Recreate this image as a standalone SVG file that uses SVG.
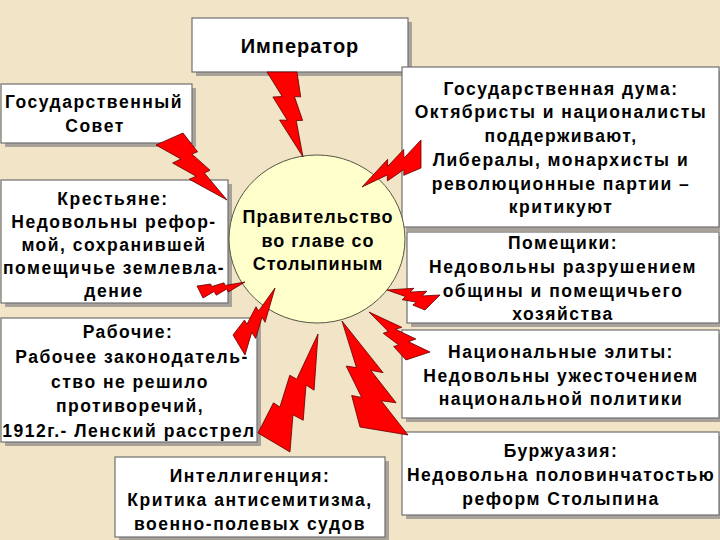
<svg xmlns="http://www.w3.org/2000/svg" xmlns:xlink="http://www.w3.org/1999/xlink" width="720" height="540" viewBox="0 0 720 540">
<style>
.bg{fill:#f2e4c6}
.shadow{fill:#a8a29a}
.box{fill:#ffffff;stroke:#707070;stroke-width:1.2}
.t{font-family:"Liberation Sans",Arial,sans-serif;font-weight:bold;font-size:17.5px;letter-spacing:1.5px;fill:#000;text-anchor:middle}
.big{font-size:20px;letter-spacing:1px}
.mid{font-size:18px;letter-spacing:1px}
.circle{fill:#ffffcc;stroke:#555544;stroke-width:1}
.bolt{fill:#ff0000;stroke:#600000;stroke-width:0.8;stroke-linejoin:miter;vector-effect:non-scaling-stroke}
</style>
<defs>
<path id="boltShape" class="bolt" d="M0.392,0 L0.595,0.281 L0.512,0.315 L0.767,0.556 L0.684,0.596 L1,1 L0.464,0.690 L0.566,0.646 L0.2325,0.449 L0.352,0.388 L0,0.180 Z"/>
</defs>
<rect class="bg" x="0" y="0" width="720" height="540"/>

<g id="imperator">
<rect class="shadow" x="196" y="22" width="216" height="54"/>
<rect class="box" x="192" y="18" width="216" height="54"/>
<text class="t big" x="300" y="53">Император</text>
</g>

<g id="gossovet">
<rect class="shadow" x="5" y="88" width="191" height="59"/>
<rect class="box" x="1" y="84" width="191" height="59"/>
<text class="t" x="94" y="108">Государственный</text>
<text class="t" x="95" y="132">Совет</text>
</g>

<g id="krestyane">
<rect class="shadow" x="5" y="184" width="227" height="123"/>
<rect class="box" x="1" y="180" width="227" height="123"/>
<text class="t" x="113" y="205">Крестьяне:</text>
<text class="t" x="114" y="228">Недовольны рефор-</text>
<text class="t" x="114" y="251">мой, сохранившей</text>
<text class="t" x="114" y="274">помещичье землевла-</text>
<text class="t" x="114" y="297">дение</text>
</g>

<g id="rabochie">
<rect class="shadow" x="5" y="322" width="256" height="124"/>
<rect class="box" x="1" y="318" width="256" height="124"/>
<text class="t" x="128" y="338">Рабочие:</text>
<text class="t" x="132" y="363">Рабочее законодатель-</text>
<text class="t" x="130" y="388">ство не решило</text>
<text class="t" x="130" y="412">противоречий,</text>
<text class="t" x="129" y="437">1912г.- Ленский расстрел</text>
</g>

<g id="intelligentsia">
<rect class="shadow" x="119" y="461" width="270" height="80"/>
<rect class="box" x="115" y="457" width="270" height="80"/>
<text class="t" x="250" y="482">Интеллигенция:</text>
<text class="t" x="250" y="506">Критика антисемитизма,</text>
<text class="t" x="250" y="530">военно-полевых судов</text>
</g>

<g id="duma">
<rect class="shadow" x="406" y="71" width="317" height="160"/>
<rect class="box" x="402" y="67" width="317" height="160"/>
<text class="t" x="561" y="95">Государственная дума:</text>
<text class="t" x="561" y="118">Октябристы и националисты</text>
<text class="t" x="561" y="142">поддерживают,</text>
<text class="t" x="561" y="166">Либералы, монархисты и</text>
<text class="t" x="561" y="190">революционные партии –</text>
<text class="t" x="561" y="213">критикуют</text>
</g>

<g id="pomeshchiki">
<rect class="shadow" x="411" y="236" width="312" height="91"/>
<rect class="box" x="407" y="232" width="312" height="91"/>
<text class="t" x="563" y="249">Помещики:</text>
<text class="t" x="563" y="273">Недовольны разрушением</text>
<text class="t" x="563" y="297">общины и помещичьего</text>
<text class="t" x="563" y="320">хозяйства</text>
</g>

<g id="natselity">
<rect class="shadow" x="406" y="334" width="317" height="88"/>
<rect class="box" x="402" y="330" width="317" height="88"/>
<text class="t" x="561" y="358">Национальные элиты:</text>
<text class="t" x="561" y="382">Недовольны ужесточением</text>
<text class="t" x="561" y="405">национальной политики</text>
</g>

<g id="burzhuaziya">
<rect class="shadow" x="406" y="436" width="317" height="83"/>
<rect class="box" x="402" y="432" width="317" height="83"/>
<text class="t" x="561" y="457">Буржуазия:</text>
<text class="t" x="561" y="481">Недовольна половинчатостью</text>
<text class="t" x="561" y="505">реформ Столыпина</text>
</g>

<g id="government">
<ellipse class="circle" cx="317" cy="239" rx="88" ry="84"/>
<text class="t mid" x="318" y="223">Правительство</text>
<text class="t mid" x="318" y="247">во главе со</text>
<text class="t mid" x="318" y="270">Столыпиным</text>
</g>

<g id="connectors">
<use xlink:href="#boltShape" transform="matrix(61.98 30.51 -31.69 66.45 272.70 60.04)"/>
<use xlink:href="#boltShape" transform="matrix(69.64 0.12 1.66 66.93 155.70 132.95)"/>
<use xlink:href="#boltShape" transform="matrix(-21.18 62.66 -46.12 -19.10 429.30 143.44)"/>
<use xlink:href="#boltShape" transform="matrix(5.26 -25.37 44.80 11.42 194.94 295.95)"/>
<use xlink:href="#boltShape" transform="matrix(-8.85 -56.76 47.38 -12.49 236.47 357.25)"/>
<use xlink:href="#boltShape" transform="matrix(-42.28 -73.43 85.71 -54.36 274.57 461.78)"/>
<use xlink:href="#boltShape" transform="matrix(-102.19 -54.0 44.13 -73.17 400.06 448.17)"/>
<use xlink:href="#boltShape" transform="matrix(-61.14 -1.28 0.18 -47.22 429.97 360.50)"/>
<use xlink:href="#boltShape" transform="matrix(-43.55 22.73 -11.52 -33.82 442.07 301.09)"/>
</g>
</svg>
